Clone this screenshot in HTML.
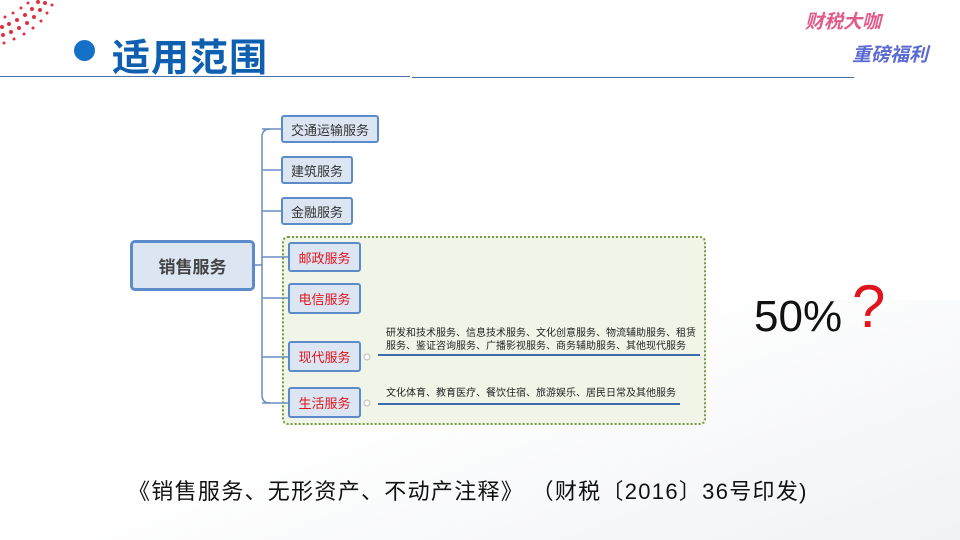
<!DOCTYPE html>
<html><head><meta charset="utf-8"><style>
body{margin:0;width:960px;height:540px;background:#fff;position:relative;overflow:hidden;font-family:"Liberation Sans","Noto Sans CJK SC",sans-serif}
.a{position:absolute}
.n{position:absolute;background:#dce6f2;border:2px solid #5b8bc9;border-radius:3px;box-sizing:border-box;font-size:13px;color:#333;display:flex;align-items:center;justify-content:center}
.r{color:#e0141e}
.desc{position:absolute;font-size:10px;color:#222;line-height:13px}
</style></head><body>
<div class="a" style="left:0;top:300px;width:960px;height:240px;background:linear-gradient(160deg,#fff 40%,#f0f2f5 100%)"></div>
<svg class="a" style="left:0;top:0" width="60" height="60">
<g fill="#e03040">
<circle cx="45" cy="3" r="2"/><circle cx="40" cy="10" r="2"/><circle cx="34" cy="17" r="2"/><circle cx="27" cy="23" r="2"/><circle cx="19" cy="28" r="2"/><circle cx="11" cy="32" r="2"/><circle cx="3" cy="35" r="2"/>
<circle cx="38" cy="2" r="2"/><circle cx="32" cy="9" r="2"/><circle cx="25" cy="15" r="2"/><circle cx="17" cy="20" r="2"/><circle cx="9" cy="24" r="2"/><circle cx="2" cy="27" r="2"/>
<circle cx="28" cy="3" r="1.5"/><circle cx="21" cy="8" r="1.5"/><circle cx="13" cy="13" r="1.5"/><circle cx="5" cy="17" r="1.5"/>
<circle cx="52" cy="5" r="1.5"/><circle cx="47" cy="13" r="1.5"/><circle cx="41" cy="21" r="1.5"/><circle cx="33" cy="28" r="1.5"/><circle cx="24" cy="34" r="1.5"/><circle cx="14" cy="39" r="1.5"/><circle cx="4" cy="43" r="1.5"/>
</g></svg>
<div class="a" style="left:74px;top:40px;width:21px;height:21px;border-radius:50%;background:#1570c8"></div>
<div class="a" style="left:112px;top:27px;font-size:38px;font-weight:bold;color:#0f5fb0;letter-spacing:1px">适用范围</div>
<div class="a" style="left:0;top:76px;width:410px;height:1px;background:#4a6fa8"></div>
<div class="a" style="left:412px;top:77px;width:442px;height:1px;background:#4a6fa8"></div>
<div class="a" style="left:805px;top:12px;font-size:19px;font-weight:bold;font-style:italic;color:#e05a8a;line-height:22px">财税大咖</div>
<div class="a" style="left:852px;top:45px;font-size:19px;font-weight:bold;font-style:italic;color:#5a6ad0;line-height:22px">重磅福利</div>

<div class="a" style="left:282px;top:236px;width:424px;height:189px;box-sizing:border-box;border:2px dotted #7a9a40;border-radius:6px;background:#f1f5e8"></div>
<svg class="a" style="left:0;top:0" width="960" height="540">
<g fill="none" stroke="#6a8ec0" stroke-width="1.5">
<path d="M255 265 H262"/>
<path d="M270 129 Q262 129 262 137 V395 Q262 403 270 403"/>
<path d="M262 129 H281 M262 170 H281 M262 211 H281 M262 257 H288 M262 298 H288 M262 357 H288 M262 403 H288"/>
</g>
<path d="M378 355 H700" stroke="#3b6ba8" stroke-width="2"/>
<path d="M378 404 H680" stroke="#3b6ba8" stroke-width="2"/>
<circle cx="367" cy="357" r="3" fill="#fff" stroke="#bbb"/>
<circle cx="367" cy="403" r="3" fill="#fff" stroke="#bbb"/>
</svg>
<div class="n" style="left:130px;top:240px;width:125px;height:51px;border-width:3px;font-size:17px;font-weight:bold;color:#444;border-radius:5px">销售服务</div>
<div class="n" style="left:281px;top:115px;width:98px;height:28px">交通运输服务</div>
<div class="n" style="left:281px;top:156px;width:72px;height:28px">建筑服务</div>
<div class="n" style="left:281px;top:197px;width:72px;height:28px">金融服务</div>
<div class="n r" style="left:288px;top:242px;width:73px;height:30px">邮政服务</div>
<div class="n r" style="left:288px;top:283px;width:73px;height:31px">电信服务</div>
<div class="n r" style="left:288px;top:341px;width:73px;height:31px">现代服务</div>
<div class="n r" style="left:288px;top:387px;width:73px;height:31px">生活服务</div>
<div class="desc" style="left:386px;top:327px;width:310px">研发和技术服务、信息技术服务、文化创意服务、物流辅助服务、租赁服务、鉴证咨询服务、广播影视服务、商务辅助服务、其他现代服务</div>
<div class="desc" style="left:386px;top:387px">文化体育、教育医疗、餐饮住宿、旅游娱乐、居民日常及其他服务</div>

<div class="a" style="left:754px;top:292px;font-size:44px;color:#111">50%</div>
<div class="a" style="left:852px;top:272px;font-size:60px;color:#e0141e;line-height:70px">?</div>
<div class="a" style="left:128px;top:474px;font-size:22px;color:#111;white-space:nowrap;letter-spacing:1.3px">《销售服务、无形资产、不动产注释》 （财税〔2016〕36号印发)</div>
</body></html>
